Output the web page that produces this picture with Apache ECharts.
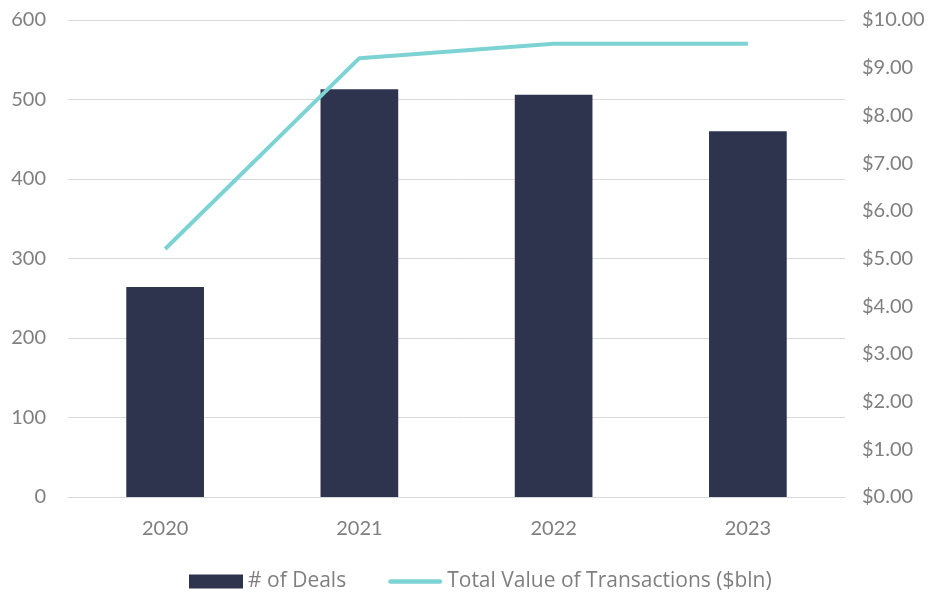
<!DOCTYPE html>
<html>
<head>
<meta charset="utf-8">
<script src="https://cdn.jsdelivr.net/npm/echarts@6/dist/echarts.min.js"></script>
<style>
  html, body { margin: 0; padding: 0; background: #fff; }
  #chart { width: 936px; height: 592px; }
</style>
</head>
<body>
<div id="chart"></div>
<script>
// data
var years = ['2020', '2021', '2022', '2023'];
var deals = [264, 513, 506, 460];
var totalValue = [5.2, 9.2, 9.5, 9.5];

var textColor = '#7f7f7f';
var font = 'Lato, "Open Sans", sans-serif';

var myChart = echarts.init(document.getElementById('chart'));
myChart.setOption({
    animation: false,
    textStyle: { fontFamily: font },
    grid: { left: 68, right: 91, top: 20, bottom: 95 },
    legend: {
        left: 184,
        bottom: -5,
        itemGap: 42,
        itemWidth: 54,
        itemHeight: 14,
        textStyle: { fontSize: 21, color: textColor, fontFamily: '"Open Sans", sans-serif' },
        data: [
            { name: '# of Deals', icon: 'rect' },
            {
                name: 'Total Value of Transactions ($bln)',
                icon: 'path://M2.5,0 L57.5,0 A2.5,2.5 0 0 1 57.5,5 L2.5,5 A2.5,2.5 0 0 1 2.5,0 Z'
            }
        ]
    },
    xAxis: {
        type: 'category',
        data: years,
        axisTick: { show: false },
        axisLine: { lineStyle: { color: '#d9d9d9', width: 1 } },
        axisLabel: { fontSize: 20, color: textColor, margin: 22 }
    },
    yAxis: [
        {
            type: 'value',
            min: 0, max: 600, interval: 100,
            axisLabel: { fontSize: 20, color: textColor, margin: 22 },
            splitLine: { lineStyle: { color: '#d9d9d9' } }
        },
        {
            type: 'value',
            min: 0, max: 10, interval: 1,
            axisLabel: {
                fontSize: 20, color: textColor, margin: 17,
                formatter: function (v) { return '$' + v.toFixed(2); }
            },
            splitLine: { show: false }
        }
    ],
    series: [
        {
            name: '# of Deals',
            type: 'bar',
            data: deals,
            barWidth: '40%',
            itemStyle: { color: '#2e334e' }
        },
        {
            name: 'Total Value of Transactions ($bln)',
            type: 'line',
            yAxisIndex: 1,
            data: totalValue,
            symbol: 'none',
            lineStyle: { color: '#7dd3d3', width: 4 },
            itemStyle: { color: '#7dd3d3' }
        }
    ]
});
window.onresize = function () {
    myChart.resize();
};
</script>
</body>
</html>
